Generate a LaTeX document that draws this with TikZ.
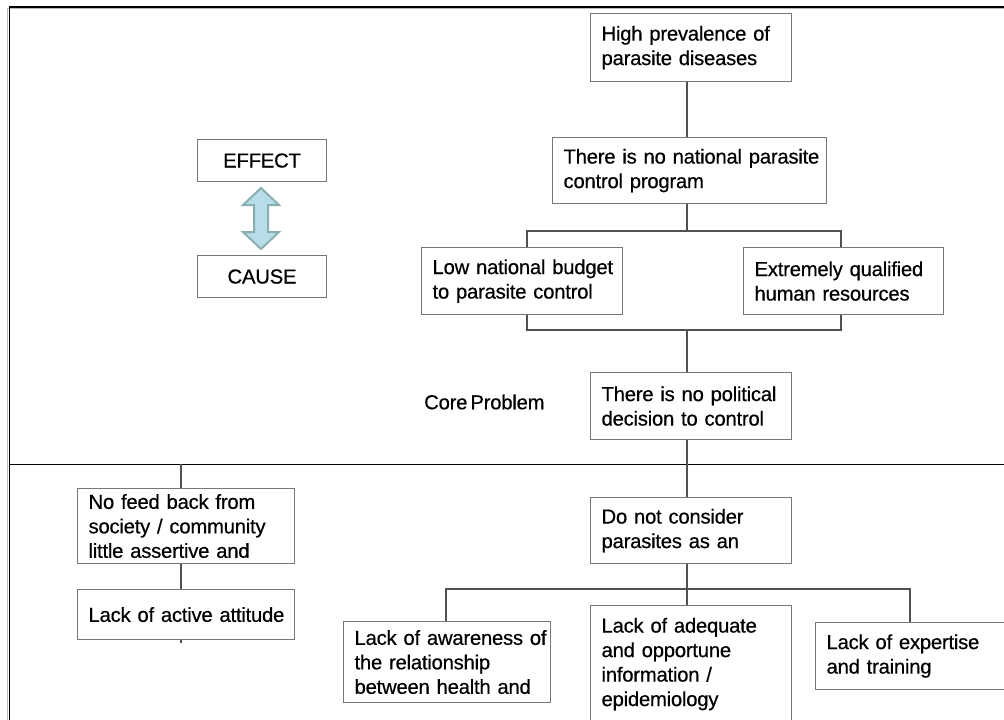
\documentclass[tikz,border=0pt]{standalone}
\usepackage{fontspec}
\setmainfont{Liberation Sans}[WordSpace=0.55, LetterSpace=-1.2, FakeBold=0.45]
\definecolor{boxgray}{RGB}{120,120,120}
\definecolor{conngray}{RGB}{80,80,80}
\definecolor{arrowfill}{RGB}{183,221,232}
\definecolor{arrowline}{RGB}{138,175,176}
\newcommand\oneline[1]{\mbox{#1}}
\begin{document}
\begin{tikzpicture}[x=1pt,y=-1pt,
  box/.style={draw=boxgray, line width=1.1pt, fill=white, anchor=north west,
    inner xsep=11pt, inner ysep=0pt, align=left, text=black,
    font=\fontsize{20.3}{24.5}\selectfont},
  tagbox/.style={draw=boxgray, line width=1.1pt, fill=white, anchor=north west,
    inner sep=0pt, minimum width=129pt, minimum height=42pt, align=center,
    font=\fontsize{20.3}{24.5}\selectfont},
  conn/.style={draw=conngray, line width=1.1pt},
  label/.style={anchor=west, inner sep=0pt, font=\fontsize{20.3}{24.5}\selectfont}]
\useasboundingbox (0,0) rectangle (1004,720);
\clip (0,0) rectangle (1004,720);

% outer frame and the effect/cause divider
\draw[gray!55, line width=1pt] (7.5,720) -- (7.5,8.5) -- (1004,8.5);
\draw[black, line width=1.8pt] (9.5,720) -- (9.5,7) -- (1004,7);
\draw[black, line width=1pt] (9.5,464) -- (1004,464);

% legend
\node[tagbox] (effect) at (197,139) {EFFECT};
\node[tagbox] (cause) at (197,255) {CAUSE};
\draw[fill=arrowfill, draw=arrowline, line width=2pt, line join=miter]
  (261,188) -- (279,205) -- (268,205) -- (268,232) -- (279,232) -- (261,249)
  -- (243,232) -- (254,232) -- (254,205) -- (243,205) -- cycle;

% effects
\node[box, minimum width=201pt, text width=179pt, minimum height=68pt] (b1) at (590,13)
  {\oneline{High prevalence of}\\\oneline{parasite diseases}};
\node[box, minimum width=274pt, text width=252pt, minimum height=66pt] (b2) at (552,137)
  {\oneline{There is no national parasite}\\\oneline{control program}};
\node[box, minimum width=201pt, text width=179pt, minimum height=67pt] (b3) at (421,247)
  {\oneline{Low national budget}\\\oneline{to parasite control}};
\node[box, minimum width=200pt, text width=178pt, minimum height=67pt] (b4) at (743,247)
  {\oneline{Extremely qualified}\\\oneline{human resources}};

% core problem
\node[box, minimum width=201pt, text width=179pt, minimum height=67pt] (b5) at (590,372)
  {\oneline{There is no political}\\\oneline{decision to control}};
\node[label] (core) at (424,402) {Core Problem};

% causes
\node[box, minimum width=201pt, text width=179pt, minimum height=66pt] (b7) at (590,497)
  {\oneline{Do not consider}\\\oneline{parasites as an}};
\node[box, minimum width=217pt, text width=195pt, minimum height=75pt] (b8) at (77,488)
  {\oneline{No feed back from}\\\oneline{society / community}\\\oneline{little assertive and}};
\node[box, minimum width=217pt, text width=195pt, minimum height=50pt] (b9) at (77,589)
  {\oneline{Lack of active attitude}};
\node[box, minimum width=207pt, text width=185pt, minimum height=81pt] (b10) at (343,621)
  {\oneline{Lack of awareness of}\\\oneline{the relationship}\\\oneline{between health and}};
\node[box, minimum width=201pt, text width=179pt, minimum height=117pt] (b11) at (590,605)
  {\oneline{Lack of adequate}\\\oneline{and opportune}\\\oneline{information /}\\\oneline{epidemiology}};
\node[box, minimum width=195pt, text width=173pt, minimum height=67pt] (b12) at (815,622)
  {\oneline{Lack of expertise}\\\oneline{and training}};

% connector guides
\coordinate (spine) at (687,0);
\coordinate (lx) at (527,0);
\coordinate (rx) at (841,0);
\coordinate (ax) at (446,0);
\coordinate (ex) at (910,0);
\coordinate (fx) at (181,464);
\coordinate (s1) at (687,231);
\coordinate (s2) at (687,330);
\coordinate (s3) at (687,589);

% connectors
\draw[conn] (b1.south -| spine) -- (b2.north -| spine);
\draw[conn] (b2.south -| spine) -- (s1);
\draw[conn] (b3.north -| lx) |- (s1) -| (b4.north -| rx);
\draw[conn] (b3.south -| lx) |- (s2) -| (b4.south -| rx);
\draw[conn] (s2) -- (b5.north -| spine);
\draw[conn] (b5.south -| spine) -- (b7.north -| spine);
\draw[conn] (b7.south -| spine) -- (s3);
\draw[conn] (b10.north -| ax) |- (s3) -| (b12.north -| ex);
\draw[conn] (s3) -- (b11.north -| spine);
\draw[conn] (fx) -- (b8.north -| fx);
\draw[conn] (b8.south -| fx) -- (b9.north -| fx);
\draw[conn] (b9.south -| fx) -- ++(0,2.5);
\end{tikzpicture}
\end{document}
